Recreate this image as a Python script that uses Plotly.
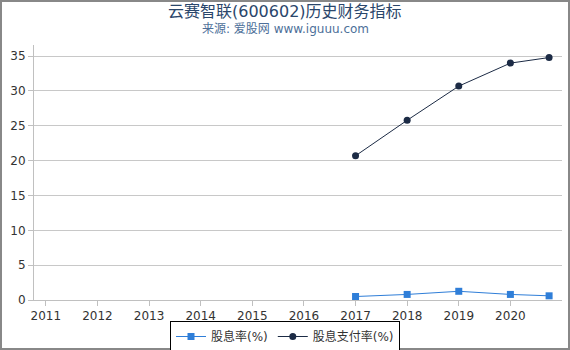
import plotly.graph_objects as go

years = [2017, 2018, 2019, 2020, 2020.75]
tick_vals = [2011, 2012, 2013, 2014, 2015, 2016, 2017, 2018, 2019, 2020]
tick_text = [str(v) for v in tick_vals]
dividend_yield = [0.5, 0.8, 1.25, 0.8, 0.6]
payout_ratio = [20.7, 25.8, 30.7, 34.0, 34.8]

W, H = 570, 350
L, R, T, B = 34, 8, 45, 50

fig = go.Figure()
fig.add_trace(go.Scatter(
    x=years, y=dividend_yield, mode="lines+markers", name="股息率(%)",
    line=dict(color="#2f7ed8", width=1),
    marker=dict(symbol="square", size=7, color="#2f7ed8"),
))
fig.add_trace(go.Scatter(
    x=years, y=payout_ratio, mode="lines+markers", name="股息支付率(%)",
    line=dict(color="#1c2b45", width=1),
    marker=dict(symbol="circle", size=7, color="#1c2b45"),
))

pw = W - L - R
ph = H - T - B
fig.add_shape(type="rect", xref="paper", yref="paper",
              x0=(-L + 1) / pw, x1=1 + (R - 1) / pw,
              y0=(-B + 1) / ph, y1=1 + (T - 1) / ph,
              line=dict(color="#888888", width=2))

fig.add_annotation(text="云赛智联(600602)历史财务指标", xref="paper", yref="paper",
                   x=(285 - L) / pw, y=1 + (T - 11) / ph, xanchor="center", yanchor="middle",
                   showarrow=False, font=dict(size=16, color="#2a466b", family="DejaVu Sans, Noto Sans CJK SC"))
fig.add_annotation(text="来源: 爱股网 www.iguuu.com", xref="paper", yref="paper",
                   x=(285 - L) / pw, y=1 + (T - 29) / ph, xanchor="center", yanchor="middle",
                   showarrow=False, font=dict(size=12, color="#4d6f99", family="DejaVu Sans, Noto Sans CJK SC"))

fig.update_layout(
    width=W, height=H,
    margin=dict(l=L, r=R, t=T, b=B, autoexpand=False),
    paper_bgcolor="white", plot_bgcolor="white",
    font=dict(family="DejaVu Sans", size=12, color="#333333"),
    xaxis=dict(
        range=[2010.77, 2021.0], tickvals=tick_vals, ticktext=tick_text,
        showgrid=False, showline=True, linecolor="#c0c0c0", linewidth=1,
        ticks="outside", ticklen=5, tickcolor="#c0c0c0", zeroline=False,
        tickfont=dict(size=12, color="#333333"),
    ),
    yaxis=dict(
        range=[0, 36.6], tickvals=[0, 5, 10, 15, 20, 25, 30, 35],
        showgrid=True, gridcolor="#c8c8c8", gridwidth=1,
        showline=True, linecolor="#c0c0c0", linewidth=1,
        ticks="outside", ticklen=5, tickcolor="#c0c0c0", zeroline=False,
        tickfont=dict(size=12, color="#333333"),
    ),
    legend=dict(
        orientation="h", x=(285 - L) / pw, xanchor="center",
        y=(T + ph - 321) / ph, yanchor="top",
        bordercolor="#000000", borderwidth=1,
        font=dict(size=12, color="#333333", family="DejaVu Sans, Noto Sans CJK SC"),
        itemwidth=30, tracegroupgap=0,
    ),
    showlegend=True,
)

fig.write_html("out.html")
